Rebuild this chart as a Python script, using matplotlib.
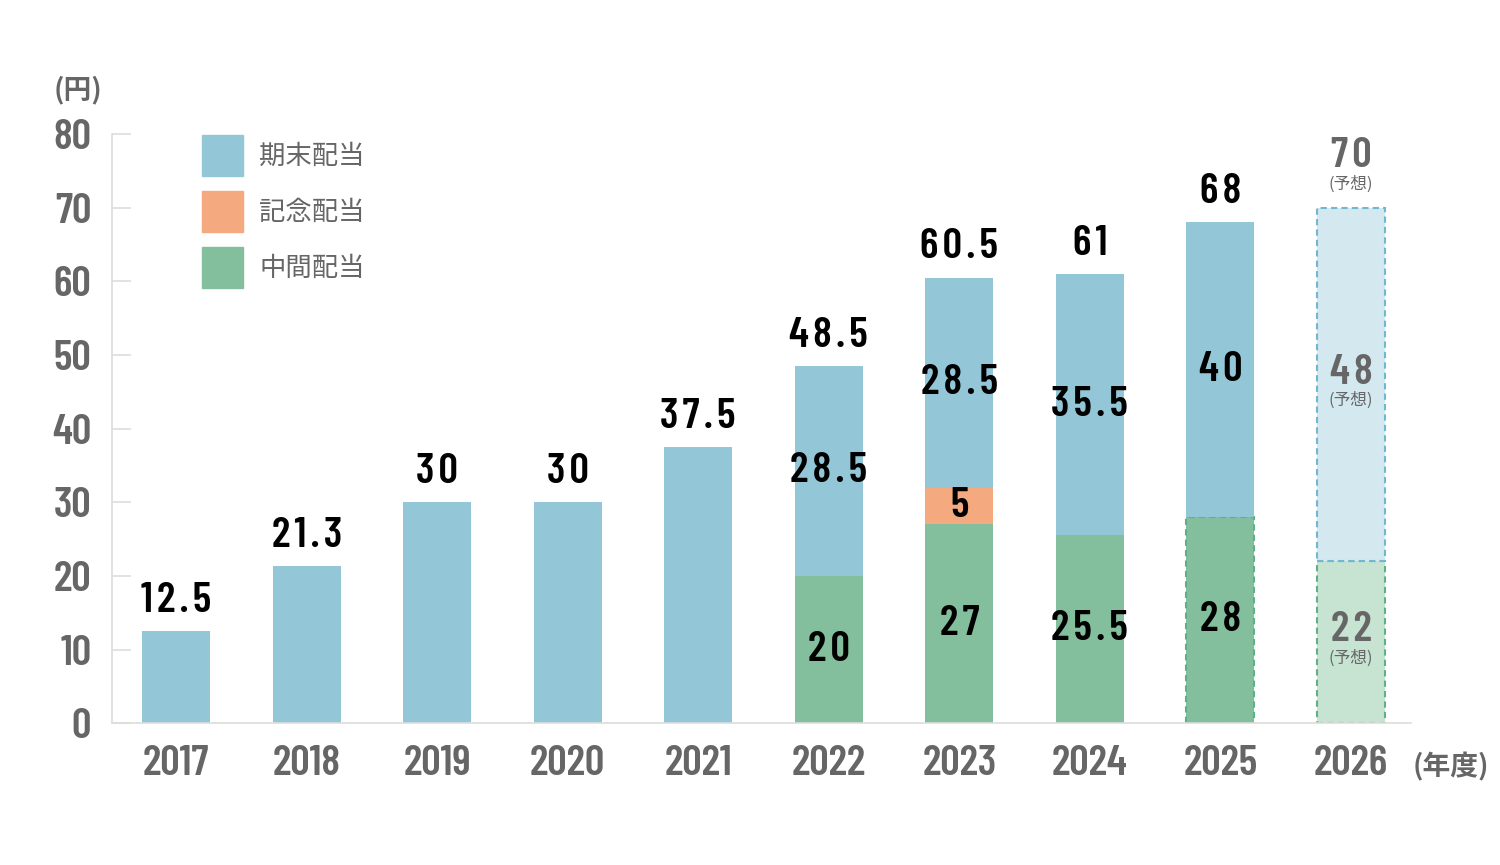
import matplotlib
matplotlib.use("Agg")
import matplotlib.pyplot as plt
from matplotlib.patches import Rectangle

NUM_FONT = ["Barlow Condensed", "Noto Sans CJK JP", "DejaVu Sans"]
JP_FONT = ["Noto Sans CJK JP", "DejaVu Sans"]
plt.rcParams["font.family"] = NUM_FONT

years = ["2017", "2018", "2019", "2020", "2021", "2022", "2023", "2024", "2025", "2026"]
interim = [0, 0, 0, 0, 0, 20, 27, 25.5, 28, 22]          # 中間配当
commemorative = [0, 0, 0, 0, 0, 0, 5, 0, 0, 0]          # 記念配当
year_end = [12.5, 21.3, 30, 30, 37.5, 28.5, 28.5, 35.5, 40, 48]  # 期末配当
forecast = [False] * 9 + [True]
interim_dashed = [False] * 8 + [True, True]
yticks = [0, 10, 20, 30, 40, 50, 60, 70, 80]
legend_labels = ["期末配当", "記念配当", "中間配当"]

BLUE, ORANGE, GREEN = "#93C7D8", "#F5A97F", "#83BF9C"
BLUE_L, GREEN_L = "#D3E8EF", "#C7E3D2"
BLUE_E, GREEN_E = "#6FB8CF", "#5FB085"
GRAY = "#666666"

totals = [a + b + c for a, b, c in zip(interim, commemorative, year_end)]
x = list(range(len(years)))
w = 0.52

fig = plt.figure(figsize=(15, 8.65), dpi=100)
ax = fig.add_axes([0.0747, 0.164, 0.866, 0.681])

green_fill = [GREEN_L if f else GREEN for f in forecast]
blue_fill = [BLUE_L if f else BLUE for f in forecast]
bottom2 = [a + b for a, b in zip(interim, commemorative)]

g = ax.bar(x, interim, w, color=green_fill, linewidth=0)
ax.bar(x, commemorative, w, bottom=interim, color=ORANGE, linewidth=0)
b = ax.bar(x, year_end, w, bottom=bottom2, color=blue_fill, linewidth=0)

# dashed outlines for forecast / planned segments
for i, p in enumerate(g.patches):
    if interim_dashed[i]:
        p.set_edgecolor(GREEN_E)
        p.set_linewidth(1.5)
        p.set_linestyle((0, (3, 2)))
for i, p in enumerate(b.patches):
    if forecast[i]:
        p.set_edgecolor(BLUE_E)
        p.set_linewidth(1.5)
        p.set_linestyle((0, (3, 2)))

lab_kw = dict(ha="center", va="center", fontsize=31, fontweight="semibold")
sub_kw = dict(ha="center", va="center", fontsize=12, color=GRAY, family=JP_FONT)


def spaced(v):
    # loose tracking like the reference
    return "\u200a".join(f"{v:g}")


for i in x:
    col = GRAY if forecast[i] else "black"
    if forecast[i]:
        ax.text(i, totals[i] + 7.0, spaced(totals[i]), color=col, **lab_kw)
        ax.text(i, totals[i] + 3.2, "(予想)", **sub_kw)
    else:
        ax.text(i, totals[i] + 4.1, spaced(totals[i]), color=col, **lab_kw)
    if interim[i] > 0:
        segs = [(0, interim[i]), (interim[i], commemorative[i]), (bottom2[i], year_end[i])]
        for base, h in segs:
            if h <= 0:
                continue
            mid = base + h / 2
            if forecast[i]:
                ax.text(i, mid + 1.6, spaced(h), color=col, **lab_kw)
                ax.text(i, mid - 2.2, "(予想)", **sub_kw)
            else:
                ax.text(i, mid, spaced(h), color=col, **lab_kw)

ax.set_xlim(-0.49, 9.46)
ax.set_ylim(0, 80)
ax.set_yticks(yticks)
ax.set_xticks(x)
ax.set_xticklabels(years)
for s in ["top", "right"]:
    ax.spines[s].set_visible(False)
for s in ["left", "bottom"]:
    ax.spines[s].set_color("#DDDDDD")
    ax.spines[s].set_linewidth(1.2)
ax.tick_params(axis="y", direction="in", length=14, width=1.2, color="#DDDDDD",
               labelsize=31, labelcolor=GRAY, pad=15)
ax.tick_params(axis="x", length=0, labelsize=31, labelcolor=GRAY, pad=16)
for t in ax.get_xticklabels() + ax.get_yticklabels():
    t.set_fontweight("semibold")

fig.text(0.036, 0.896, "(円)", fontsize=20, color=GRAY, fontweight="bold",
         ha="left", va="center", family=JP_FONT)
fig.text(0.942, 0.114, "(年度)", fontsize=20, color=GRAY, fontweight="bold",
         ha="left", va="center", family=JP_FONT)

# legend: colour squares with labels, top-left inside the plot
for k, (lab, c) in enumerate(zip(legend_labels, [BLUE, ORANGE, GREEN])):
    y0 = 1 - (176 + 56 * k) / 865
    fig.patches.append(Rectangle((202 / 1500, y0), 41 / 1500, 41 / 865,
                                 transform=fig.transFigure, color=c))
    fig.text(259 / 1500, y0 + 20 / 865, lab, fontsize=19, color=GRAY,
             ha="left", va="center", family=JP_FONT)

fig.savefig("out.png", dpi=100)
